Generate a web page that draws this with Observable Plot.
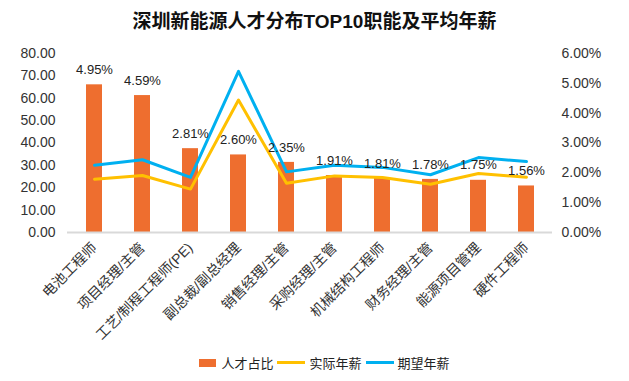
<!DOCTYPE html>
<html><head><meta charset="utf-8">
<script src="https://cdn.jsdelivr.net/npm/d3@7"></script>
<script src="https://cdn.jsdelivr.net/npm/@observablehq/plot@0.6"></script>
<style>
body{margin:0;background:#fff;font-family:"Liberation Sans","Noto Sans CJK SC",sans-serif;}
#wrap{width:629px;height:381px;position:relative;overflow:hidden;}
#title{height:40px;line-height:44px;text-align:center;font-weight:bold;font-size:19px;color:#111;}
#legend{display:flex;justify-content:center;align-items:center;font-size:13px;color:#222;margin-left:20px;margin-top:8px;}
#legend span{display:inline-flex;align-items:center;}
</style></head>
<body><div id="wrap"><div id="title">深圳新能源人才分布TOP10职能及平均年薪</div><div id="chart"></div>
<div id="legend">
<span><i style="display:inline-block;width:17px;height:8px;background:#EE6E2F;margin-right:5px"></i>人才占比</span>
<span><i style="display:inline-block;width:28px;height:3px;background:#FFC000;margin:0 4px"></i>实际年薪</span>
<span><i style="display:inline-block;width:28px;height:3px;background:#00B0F0;margin:0 4px"></i>期望年薪</span>
</div></div>
<script>
const categories = ["电池工程师","项目经理/主管","工艺/制程工程师(PE)","副总裁/副总经理","销售经理/主管","采购经理/主管","机械结构工程师","财务经理/主管","能源项目管理","硬件工程师"];
const share = [4.95, 4.59, 2.81, 2.60, 2.35, 1.91, 1.81, 1.78, 1.75, 1.56];
const actualSalary = [23.8, 25.5, 19.4, 59.2, 22.0, 25.3, 24.6, 21.6, 26.4, 24.7];
const expectedSalary = [30.1, 32.5, 24.6, 72.0, 27.1, 30.1, 29.1, 25.8, 33.5, 31.7];
const leftTicks = [0,10,20,30,40,50,60,70,80];
const rightTicks = [0,1,2,3,4,5,6];

const k = 80/6;
const rows = categories.map((c,i)=>({c, share:share[i], act:actualSalary[i], exp:expectedSalary[i]}));
const font = "Liberation Sans, Noto Sans CJK SC, sans-serif";
const chart = Plot.plot({
  width:629, height:305,
  marginLeft:67, marginRight:77, marginTop:13, marginBottom:113,
  style:{fontFamily:font, fontSize:"14px", color:"#333", background:"transparent"},
  x:{domain:categories, paddingInner:0.67, paddingOuter:0.335, label:null},
  y:{domain:[0,80], label:null},
  marks:[
    Plot.barY(rows,{x:"c", y:d=>d.share*k, fill:"#EE6E2F"}),
    Plot.ruleY([0],{stroke:"#D9D9D9", strokeWidth:2}),
    Plot.line(rows,{x:"c", y:"act", stroke:"#FFC000", strokeWidth:3}),
    Plot.line(rows,{x:"c", y:"exp", stroke:"#00B0F0", strokeWidth:3}),
    Plot.text(rows,{x:"c", y:d=>d.share*k, text:d=>d.share.toFixed(2)+"%", dy:-15, fontSize:13, fill:"#222"}),
    Plot.axisY(leftTicks,{anchor:"left", tickSize:0, tickPadding:12, tickFormat:d=>d.toFixed(2), fontSize:14, label:null}),
    Plot.axisY(rightTicks.map(v=>v*k),{anchor:"right", tickSize:0, tickPadding:9, tickFormat:v=>(v/k).toFixed(2)+"%", fontSize:14, label:null}),
    Plot.axisX({tickSize:0, tickRotate:-45, tickPadding:13, fontSize:14, label:null})
  ]
});
document.getElementById("chart").appendChild(chart);
</script></body></html>
